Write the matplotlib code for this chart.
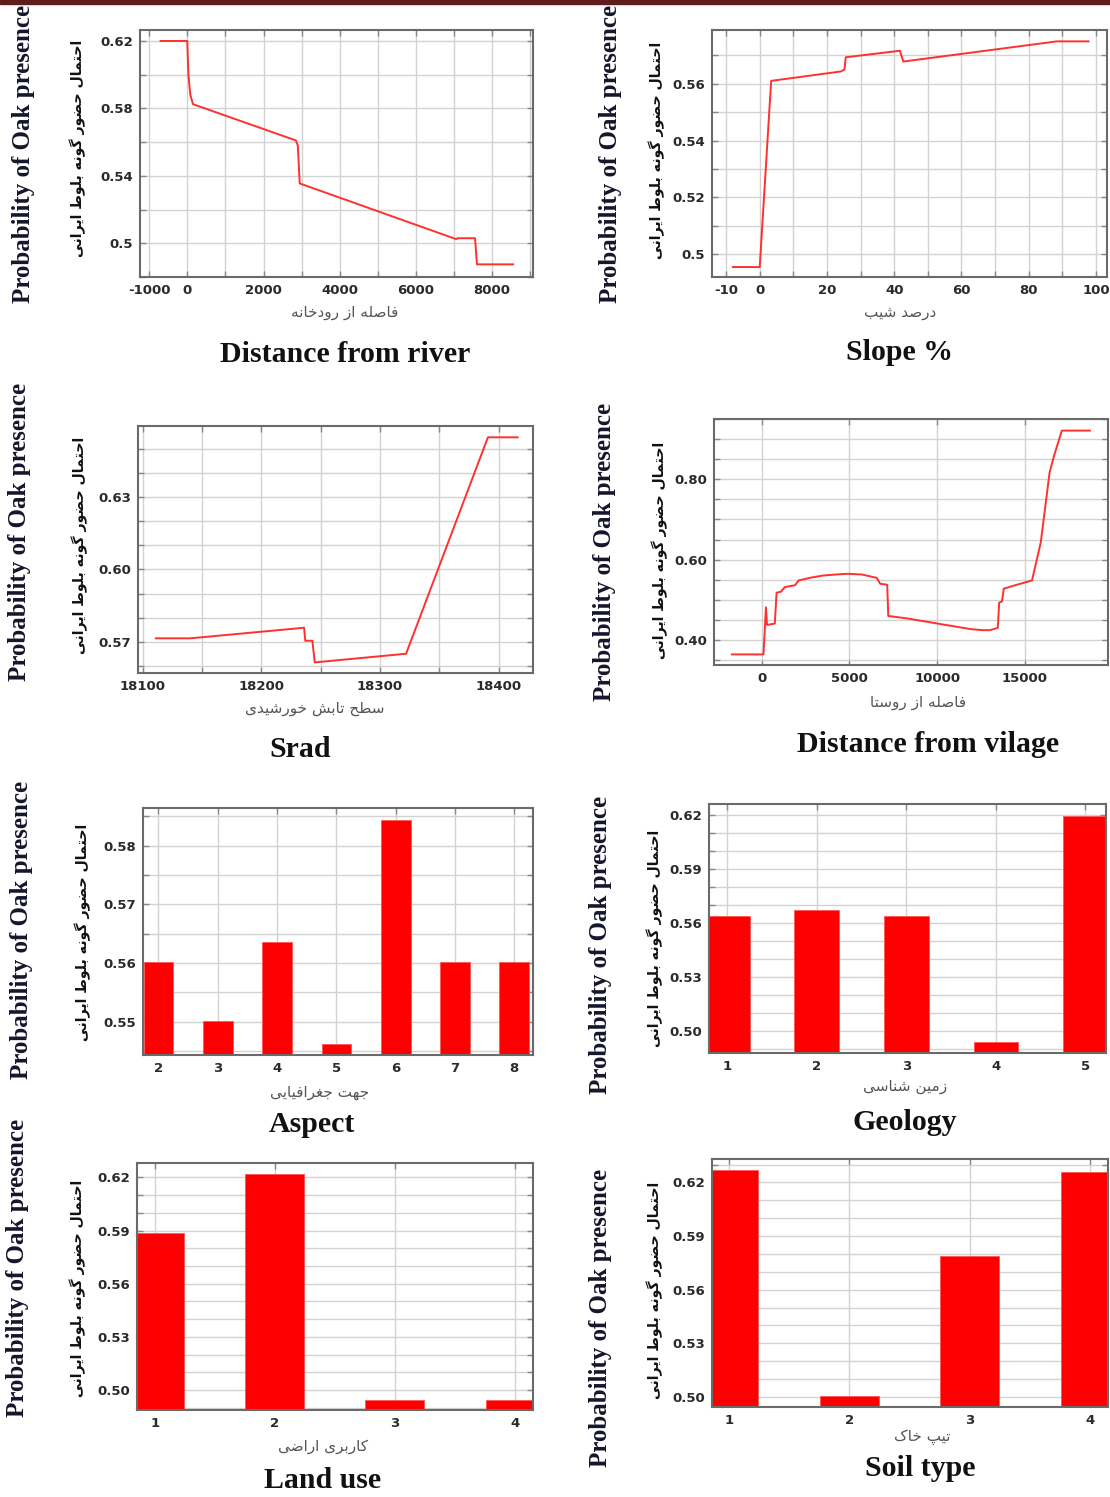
import numpy as np
import matplotlib
matplotlib.use("Agg")
import matplotlib.pyplot as plt
from matplotlib.patches import Rectangle

W, H = 1110, 1497

# values
river_x = [-700, 0, 30, 80, 150, 2850, 2900, 2950, 7050, 7100, 7550, 7600, 8550]
river_y = [0.620, 0.620, 0.600, 0.588, 0.5825, 0.561, 0.558, 0.5355, 0.5025, 0.5030, 0.5030, 0.4875, 0.4875]

slope_x = [-8, 0, 3.4, 24.1, 25.2, 25.6, 41.7, 42.7, 88.4, 97.8]
slope_y = [0.4955, 0.4955, 0.5610, 0.5643, 0.5650, 0.5693, 0.5716, 0.5678, 0.5749, 0.5749]

srad_x = [18111, 18140, 18236, 18237, 18243, 18245, 18322, 18391, 18416]
srad_y = [0.5714, 0.5714, 0.5758, 0.5704, 0.5704, 0.5614, 0.5650, 0.6549, 0.6549]

village_x = [-1700, 100, 240, 300, 745, 845, 1100, 1310, 1900, 2100,
             2800, 3500, 4300, 4900, 5700, 6550, 6750, 7150, 7210, 8350,
             10350, 11950, 12600, 13000, 13450, 13530, 13690, 13790, 14400, 15400,
             15900, 16400, 16650, 17100, 18700]
village_y = [0.3636, 0.3636, 0.481, 0.437, 0.4405, 0.5174, 0.520, 0.5314, 0.536, 0.548,
             0.555, 0.5603, 0.563, 0.5645, 0.5628, 0.5545, 0.5397, 0.5372, 0.4595, 0.4529,
             0.438, 0.4264, 0.424, 0.424, 0.4298, 0.4926, 0.4959, 0.5273, 0.5355, 0.548,
             0.643, 0.8165, 0.8579, 0.9215, 0.9215]

aspect_cat = [2, 3, 4, 5, 6, 7, 8]
aspect_val = [0.5602, 0.5501, 0.5636, 0.5461, 0.5844, 0.5602, 0.5602]

geology_cat = [1, 2, 3, 4, 5]
geology_val = [0.5643, 0.5674, 0.5643, 0.4941, 0.6196]

landuse_cat = [1, 2, 3, 4]
landuse_val = [0.5887, 0.6219, 0.4945, 0.4945]

soil_cat = [1, 2, 3, 4]
soil_val = [0.6267, 0.5004, 0.5789, 0.6256]

outer_label = "Probability of Oak presence"
inner_label = "احتمال حضور گونه بلوط ایرانی"
titles = ["Distance from river", "Slope %", "Srad", "Distance from vilage",
          "Aspect", "Geology", "Land use", "Soil type"]
fa_xlabels = ["فاصله از رودخانه", "درصد شیب", "سطح تابش خورشیدی", "فاصله از روستا",
              "جهت جغرافیایی", "زمین شناسی", "کاربری اراضی", "تیپ خاک"]

# --- minimal persian shaping (matplotlib has no bidi / joining) ---
FORMS = {
    'ا': ('\uFE8D', '\uFE8E', None, None), 'ب': ('\uFE8F', '\uFE90', '\uFE91', '\uFE92'),
    'ت': ('\uFE95', '\uFE96', '\uFE97', '\uFE98'), 'ج': ('\uFE9D', '\uFE9E', '\uFE9F', '\uFEA0'),
    'ح': ('\uFEA1', '\uFEA2', '\uFEA3', '\uFEA4'), 'خ': ('\uFEA5', '\uFEA6', '\uFEA7', '\uFEA8'),
    'د': ('\uFEA9', '\uFEAA', None, None), 'ر': ('\uFEAD', '\uFEAE', None, None),
    'ز': ('\uFEAF', '\uFEB0', None, None), 'س': ('\uFEB1', '\uFEB2', '\uFEB3', '\uFEB4'),
    'ش': ('\uFEB5', '\uFEB6', '\uFEB7', '\uFEB8'), 'ص': ('\uFEB9', '\uFEBA', '\uFEBB', '\uFEBC'),
    'ض': ('\uFEBD', '\uFEBE', '\uFEBF', '\uFEC0'), 'ط': ('\uFEC1', '\uFEC2', '\uFEC3', '\uFEC4'),
    'غ': ('\uFECD', '\uFECE', '\uFECF', '\uFED0'), 'ف': ('\uFED1', '\uFED2', '\uFED3', '\uFED4'),
    'ل': ('\uFEDD', '\uFEDE', '\uFEDF', '\uFEE0'), 'م': ('\uFEE1', '\uFEE2', '\uFEE3', '\uFEE4'),
    'ن': ('\uFEE5', '\uFEE6', '\uFEE7', '\uFEE8'), 'ه': ('\uFEE9', '\uFEEA', '\uFEEB', '\uFEEC'),
    'و': ('\uFEED', '\uFEEE', None, None), 'پ': ('\uFB56', '\uFB57', '\uFB58', '\uFB59'),
    'ک': ('\uFB8E', '\uFB8F', '\uFB90', '\uFB91'), 'گ': ('\uFB92', '\uFB93', '\uFB94', '\uFB95'),
    'ی': ('\uFBFC', '\uFBFD', '\uFBFE', '\uFBFF'),
}


def shape_fa(text):
    out = []
    for i, ch in enumerate(text):
        if ch not in FORMS:
            out.append(ch)
            continue
        prev = text[i - 1] if i > 0 else ''
        nxt = text[i + 1] if i + 1 < len(text) else ''
        jp = prev in FORMS and FORMS[prev][2] is not None
        jn = FORMS[ch][2] is not None and nxt in FORMS
        iso, fin, ini, med = FORMS[ch]
        if jp and jn:
            out.append(med)
        elif jp:
            out.append(fin)
        elif jn:
            out.append(ini)
        else:
            out.append(iso)
    return ''.join(reversed(out))


fig = plt.figure(figsize=(W / 100, H / 100), dpi=100)
fig.patches.append(Rectangle((0, 1 - 4 / H), 1, 4 / H, transform=fig.transFigure,
                             color='#5e1c1c', zorder=10))


def put(x, y, s, **kw):
    fig.text(x / W, 1 - y / H, s, ha='center', va='center', **kw)


def make_panel(box, xlim, ylim, xgrid, xshow, ygrid, yshow, yfmt):
    l, t, r, b = box
    ax = fig.add_axes([l / W, 1 - b / H, (r - l) / W, (b - t) / H])
    ax.set_xlim(*xlim)
    ax.set_ylim(*ylim)
    ax.set_xticks(xgrid)
    ax.set_xticklabels(['%g' % v if np.any(np.isclose(v, xshow)) else '' for v in xgrid],
                       fontweight='bold')
    ax.set_yticks(ygrid)
    ax.set_yticklabels([yfmt % v if np.any(np.isclose(v, yshow)) else '' for v in ygrid],
                       fontweight='bold')
    ax.tick_params(direction='in', length=4, width=1, color='#888888', top=True, right=True,
                   labelsize=9.5, labelcolor='#2a2a2a', pad=5)
    ax.grid(True, color='#d2d2d2', linewidth=1.0)
    ax.set_axisbelow(True)
    for sp in ax.spines.values():
        sp.set_color('#6a6a6a')
        sp.set_linewidth(1.5)
    return ax


line_kw = dict(color='#ff3030', linewidth=1.4)
bar_kw = dict(color='#ff0000', edgecolor='#ff5555', linewidth=0.6)

# 1 distance from river
ax = make_panel((140, 30, 533, 277), (-1240, 9070), (0.4805, 0.6265),
                np.arange(-1000, 9001, 1000), [-1000, 0, 2000, 4000, 6000, 8000],
                np.arange(0.48, 0.621, 0.02), [0.5, 0.54, 0.58, 0.62], '%g')
ax.plot(river_x, river_y, **line_kw)

# 2 slope
ax = make_panel((712, 30, 1107, 277), (-14.2, 103.3), (0.492, 0.5789),
                np.arange(-10, 101, 10), [-10, 0, 20, 40, 60, 80, 100],
                np.arange(0.50, 0.5751, 0.01), [0.5, 0.52, 0.54, 0.56], '%g')
ax.plot(slope_x, slope_y, **line_kw)

# 3 srad
ax = make_panel((138, 426, 533, 673), (18096, 18429), (0.557, 0.6596),
                np.arange(18100, 18401, 50), [18100, 18200, 18300, 18400],
                np.arange(0.56, 0.6551, 0.01), [0.57, 0.60, 0.63], '%.2f')
ax.plot(srad_x, srad_y, **line_kw)

# 4 distance from village
ax = make_panel((714, 419, 1108, 665), (-2720, 19730), (0.3372, 0.9504),
                np.arange(0, 15001, 5000), [0, 5000, 10000, 15000],
                np.arange(0.35, 0.951, 0.05), [0.40, 0.60, 0.80], '%.2f')
ax.plot(village_x, village_y, **line_kw)

# 5 aspect
ax = make_panel((143, 808, 533, 1055), (1.74, 8.315), (0.5443, 0.5864),
                aspect_cat, aspect_cat,
                np.arange(0.545, 0.5851, 0.005), [0.55, 0.56, 0.57, 0.58], '%.2f')
base = 0.5
ax.bar(aspect_cat, np.array(aspect_val) - base, bottom=base, width=0.5, **bar_kw)

# 6 geology
ax = make_panel((709, 804, 1106, 1053), (0.795, 5.23), (0.4879, 0.6263),
                geology_cat, geology_cat,
                np.arange(0.49, 0.6201, 0.01), [0.50, 0.53, 0.56, 0.59, 0.62], '%.2f')
base = 0.45
ax.bar(geology_cat, np.array(geology_val) - base, bottom=base, width=0.5, **bar_kw)

# 7 land use
ax = make_panel((137, 1163, 533, 1410), (0.853, 4.15), (0.4887, 0.6281),
                landuse_cat, landuse_cat,
                np.arange(0.49, 0.6201, 0.01), [0.50, 0.53, 0.56, 0.59, 0.62], '%.2f')
ax.bar(landuse_cat, np.array(landuse_val) - base, bottom=base, width=0.49, **bar_kw)

# 8 soil type
ax = make_panel((712, 1159, 1108, 1407), (0.862, 4.147), (0.4944, 0.6331),
                soil_cat, soil_cat,
                np.arange(0.50, 0.6301, 0.01), [0.50, 0.53, 0.56, 0.59, 0.62], '%.2f')
ax.bar(soil_cat, np.array(soil_val) - base, bottom=base, width=0.49, **bar_kw)

# surrounding texts, one entry per panel
outer_pos = [(24, 154), (610, 154), (20, 532), (605, 552),
             (22, 930), (600, 945), (18, 1268), (600, 1318)]
inner_pos = [(78, 148), (657, 150), (80, 545), (660, 550),
             (83, 932), (655, 938), (78, 1288), (655, 1290)]
fa_pos = [(345, 312), (900, 312), (315, 708), (918, 702),
          (320, 1093), (905, 1087), (323, 1447), (922, 1437)]
title_pos = [(345, 354), (900, 353), (300, 750), (928, 744),
             (312, 1125), (905, 1122), (323, 1481), (920, 1469)]

for i in range(8):
    put(*outer_pos[i], outer_label, rotation=90, fontsize=18, fontweight='bold',
        family='Liberation Serif', color='#15152b')
    put(*inner_pos[i], shape_fa(inner_label), rotation=90, fontsize=10.2, fontweight='bold',
        family='DejaVu Sans', color='#111111')
    put(*fa_pos[i], shape_fa(fa_xlabels[i]), fontsize=11, family='DejaVu Sans',
        color='#555555')
    put(*title_pos[i], titles[i], fontsize=21.5, fontweight='bold',
        family='Liberation Serif', color='#111111')

fig.savefig('out.png', dpi=100)
